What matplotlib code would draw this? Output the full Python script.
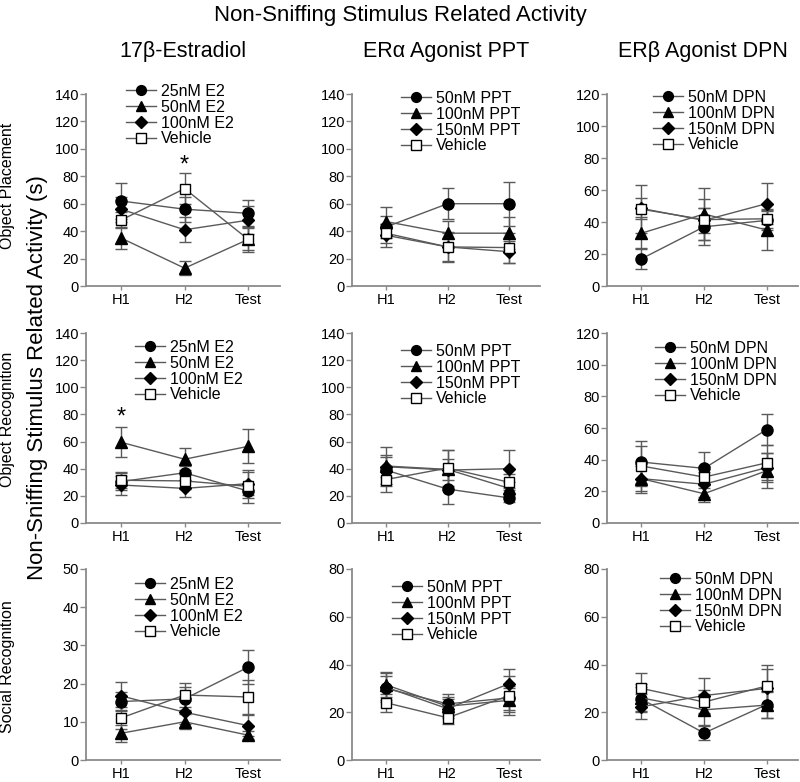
import numpy as np
import matplotlib.pyplot as plt

plt.rcParams['font.family'] = ['Liberation Sans', 'DejaVu Sans']

# x categories
phases = ["H1", "H2", "Test"]

# legend labels per treatment column
e2_labels = ["25nM E2", "50nM E2", "100nM E2", "Vehicle"]
ppt_labels = ["50nM PPT", "100nM PPT", "150nM PPT", "Vehicle"]
dpn_labels = ["50nM DPN", "100nM DPN", "150nM DPN", "Vehicle"]

# means (rows = groups, cols = H1, H2, Test) and SEM
op_e2_mean = [[62, 56, 53], [35, 13, 34], [56, 41, 48], [48, 71, 34]]
op_e2_sem = [[13, 9, 10], [8, 5, 8], [9, 9, 10], [6, 11.5, 9.5]]
op_ppt_mean = [[43, 60, 60], [47, 38.5, 38.5], [37, 28.5, 25], [38.5, 28.5, 28]]
op_ppt_sem = [[8, 11.5, 16], [10.5, 9, 11.5], [8.5, 11, 8], [7, 10, 11]]
op_dpn_mean = [[17, 37, 41], [33, 45, 35], [48.5, 41, 51.5], [48, 41.5, 42]]
op_dpn_sem = [[6.5, 11.5, 6], [10, 16, 12.5], [6.5, 8, 13], [15, 13, 6]]

or_e2_mean = [[30.5, 37, 23.5], [59.5, 47, 56.5], [28, 25.5, 29], [31.5, 31, 27]]
or_e2_sem = [[6, 5, 5], [11, 8, 12.5], [7, 6.5, 8.5], [6, 6, 12]]
or_ppt_mean = [[39, 25, 18.5], [42, 39.5, 25.5], [41.5, 39, 40], [32, 40.5, 30]]
or_ppt_sem = [[10, 11, 3], [8, 8, 5], [14.5, 15, 14], [9.5, 13, 6]]
or_dpn_mean = [[38.5, 34.5, 59], [28, 18.5, 33], [28, 24.5, 35], [36, 29, 38]]
or_dpn_sem = [[13.5, 10.5, 10], [9, 5.5, 11], [8, 8, 9], [12.5, 7, 11]]

sr_e2_mean = [[15.3, 16, 24.3], [7, 10, 6.5], [16.8, 12.5, 9], [11, 17, 16.5]]
sr_e2_sem = [[2.5, 3, 4.4], [2.2, 2, 1.1], [3.7, 3, 2.8], [3, 3.2, 4.5]]
sr_ppt_mean = [[30, 23.5, 26], [31.5, 22.5, 25], [30.5, 21.5, 32], [24, 17.7, 27]]
sr_ppt_sem = [[5, 4, 5], [5.3, 4, 5], [6, 4, 6], [3.7, 2.7, 8]]
sr_dpn_mean = [[25.5, 11.3, 23.2], [26, 21, 23], [22.3, 27, 30], [30, 24.3, 31]]
sr_dpn_sem = [[5, 3, 5.7], [6, 6.5, 5.5], [5.3, 7.3, 8], [6.3, 5, 9]]

row_names = ["Object Placement", "Object Recognition", "Social Recognition"]
col_names = ["17\u03b2-Estradiol", "ER\u03b1 Agonist PPT", "ER\u03b2 Agonist DPN"]

panels = [
    (op_e2_mean, op_e2_sem, e2_labels, 140),
    (op_ppt_mean, op_ppt_sem, ppt_labels, 140),
    (op_dpn_mean, op_dpn_sem, dpn_labels, 120),
    (or_e2_mean, or_e2_sem, e2_labels, 140),
    (or_ppt_mean, or_ppt_sem, ppt_labels, 140),
    (or_dpn_mean, or_dpn_sem, dpn_labels, 120),
    (sr_e2_mean, sr_e2_sem, e2_labels, 50),
    (sr_ppt_mean, sr_ppt_sem, ppt_labels, 80),
    (sr_dpn_mean, sr_dpn_sem, dpn_labels, 80),
]

# layout in pixels (figure is 800 x 782)
W, H = 800, 782
col_left = [86, 352, 607]
col_right = [280, 540, 798]
row_top = [94, 333, 569]
row_bottom = [286, 523, 760]
legend_px = [(126, 92), (401, 99), (653, 98),
             (135, 348), (401, 352), (655, 349),
             (135, 585), (392, 588), (660, 580)]

markers = ['o', '^', 'D', 's']
msizes = [8, 8, 6.5, 7.5]
faces = ['black', 'black', 'black', 'white']
gray = '#5a5a5a'

fig = plt.figure(figsize=(8, 7.82), dpi=100)
x = np.arange(len(phases))

for i, (mean, sem, labels, ytop) in enumerate(panels):
    r, c = divmod(i, 3)
    rect = [col_left[c] / W, 1 - row_bottom[r] / H,
            (col_right[c] - col_left[c]) / W, (row_bottom[r] - row_top[r]) / H]
    ax = fig.add_axes(rect)
    for g in range(4):
        ax.errorbar(x, mean[g], yerr=sem[g], fmt='none', ecolor=gray,
                    elinewidth=1, capsize=4, capthick=1, zorder=2)
        ax.plot(x, mean[g], color=gray, lw=1, marker=markers[g], ms=msizes[g],
                mfc=faces[g], mec='black', mew=1, label=labels[g], zorder=3 + g)
    ax.set_xlim(-0.55, 2.5)
    ax.set_ylim(0, ytop)
    step = 10 if ytop == 50 else 20
    ax.set_yticks(np.arange(0, ytop + 1, step))
    ax.set_xticks(x)
    ax.set_xticklabels(phases)
    for s in ['top', 'right']:
        ax.spines[s].set_visible(False)
    for s in ['left', 'bottom']:
        ax.spines[s].set_color('#8a8a8a')
        ax.spines[s].set_linewidth(1.3)
    ax.tick_params(axis='y', length=4, width=1, color='#8a8a8a', pad=1, labelsize=10.5)
    ax.tick_params(axis='x', length=3, width=1, color='#8a8a8a', pad=2, labelsize=10.5)
    lx, ly = legend_px[i]
    ax.legend(loc='upper left', bbox_to_anchor=(lx / W, 1 - (ly - 8) / H),
              bbox_transform=fig.transFigure, frameon=False, fontsize=11.5,
              handlelength=1.9, handletextpad=0.3, labelspacing=0.05,
              markerscale=0.88, borderpad=0, borderaxespad=0)
    if i == 0:
        ax.text(1, 88, "*", ha='center', va='center', fontsize=17)
    if i == 3:
        ax.text(0, 78, "*", ha='center', va='center', fontsize=17)

fig.text(0.5, 1 - 16 / H, "Non-Sniffing Stimulus Related Activity",
         ha='center', va='center', fontsize=16)
for c in range(3):
    cx = (col_left[c] + col_right[c]) / 2 / W
    fig.text(cx, 1 - 52 / H, col_names[c], ha='center', va='center', fontsize=15.5)

row_centers = [186, 419, 667]
for r in range(3):
    fig.text(8 / W, 1 - row_centers[r] / H, row_names[r], rotation=90,
             ha='center', va='center', fontsize=11.5)

fig.text(38 / W, 1 - 378 / H, "Non-Sniffing Stimulus Related Activity (s)",
         rotation=90, ha='center', va='center', fontsize=16)

fig.savefig("out.png", dpi=100)
